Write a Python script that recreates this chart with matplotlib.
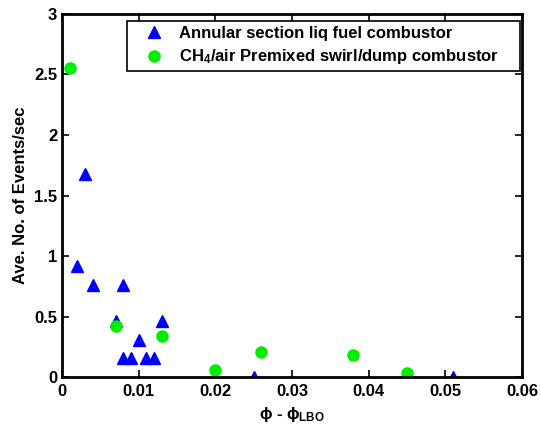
import matplotlib
matplotlib.use('Agg')
import matplotlib.pyplot as plt
from matplotlib.ticker import FuncFormatter

plt.rcParams['font.family'] = ['Liberation Sans', 'DejaVu Sans']
plt.rcParams['font.weight'] = 'bold'
plt.rcParams['mathtext.fontset'] = 'custom'
plt.rcParams['mathtext.rm'] = 'Liberation Sans:bold'
plt.rcParams['mathtext.it'] = 'Liberation Sans:bold'
plt.rcParams['mathtext.bf'] = 'Liberation Sans:bold'

# annular section liquid fuel combustor
liq_x = [0.003, 0.002, 0.004, 0.008, 0.007, 0.013, 0.010, 0.008, 0.009, 0.011, 0.012, 0.025, 0.051]
liq_y = [1.68, 0.92, 0.76, 0.76, 0.46, 0.46, 0.31, 0.16, 0.16, 0.16, 0.16, 0.0, 0.0]

# CH4/air premixed swirl/dump combustor
ch4_x = [0.001, 0.007, 0.013, 0.020, 0.026, 0.038, 0.045]
ch4_y = [2.55, 0.42, 0.34, 0.055, 0.21, 0.18, 0.03]

fig = plt.figure(figsize=(5.41, 4.24), dpi=100)
ax = fig.add_axes([0.1146, 0.1108, 0.8504, 0.8562])

ax.plot(liq_x, liq_y, '^', color='#0000ff', ms=8.5, mec='#0000ff',
        label='Annular section liq fuel combustor')
ax.plot(ch4_x, ch4_y, 'o', color='#00ee00', ms=8, mec='#00ee00',
        label=r'CH$_4$/air Premixed swirl/dump combustor')

ax.set_xlim(0, 0.06)
ax.set_ylim(0, 3)
ax.set_xticks([0, 0.01, 0.02, 0.03, 0.04, 0.05, 0.06])
ax.set_yticks([0, 0.5, 1, 1.5, 2, 2.5, 3])
fmt = FuncFormatter(lambda v, p: '%g' % round(v, 4))
ax.xaxis.set_major_formatter(fmt)
ax.yaxis.set_major_formatter(fmt)
ax.tick_params(direction='in', top=True, right=True, length=5, width=1.2,
               labelsize=12)
ax.tick_params(axis='x', pad=5)
for s in ax.spines.values():
    s.set_linewidth(2.0)

ax.set_xlabel(r'$\phi$ - $\phi_{LBO}$', fontsize=12, fontweight='bold')
ax.set_ylabel('Ave. No. of Events/sec', fontsize=12, fontweight='bold')

leg = ax.legend(loc='upper left', bbox_to_anchor=(0.1413, 0.5, 0.8543, 0.4815),
                mode='expand', borderaxespad=0, fontsize=12,
                fancybox=False, framealpha=1, edgecolor='black',
                handlelength=2.6, handletextpad=0.2, borderpad=0.3,
                labelspacing=0.4)
leg.get_frame().set_linewidth(1.2)

plt.savefig('out.png', dpi=100)
